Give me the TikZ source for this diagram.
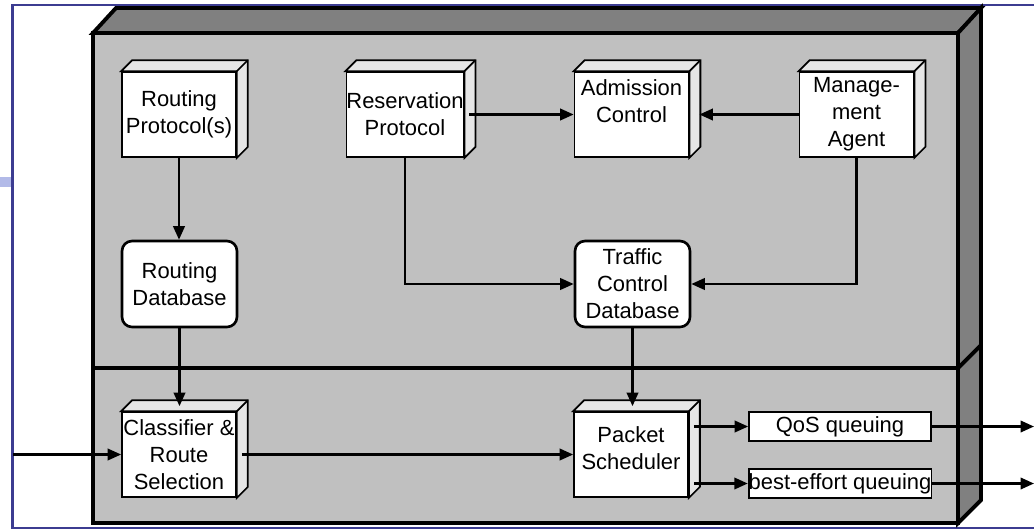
\documentclass[tikz,border=0pt]{standalone}
\usepackage{fontspec}
\setmainfont{Liberation Sans}
\usetikzlibrary{calc,arrows.meta}
\definecolor{frontgray}{RGB}{192,192,192}
\definecolor{sidegray}{RGB}{128,128,128}
\definecolor{lidgray}{RGB}{230,230,230}
\definecolor{framenavy}{RGB}{60,60,145}
\definecolor{barblue}{RGB}{178,186,232}
\tikzset{
  cube/.style={draw,line width=1pt,fill=white,minimum width=2.28cm,minimum height=1.7cm,align=center,inner sep=0pt},
  dbase/.style={draw,line width=1.5pt,fill=white,rounded corners=0.2cm,minimum width=2.3cm,minimum height=1.72cm,align=center,inner sep=0pt},
  queue/.style={draw,line width=1pt,fill=white,minimum width=3.64cm,minimum height=0.58cm,inner sep=0pt},
  flow/.style={line width=1.3pt,-{Triangle[length=0.27cm,width=0.23cm]}}
}
\newcommand\cubefaces[1]{%
  \draw[line width=1pt,fill=lidgray] (#1.north west) -- ++(11,-11) -- ([shift={(11,-11)}]#1.north east)
    -- ([shift={(11,-11)}]#1.south east) -- (#1.south east) -- (#1.north east) -- cycle;
  \draw[line width=1pt] (#1.north east) -- ++(11,-11);}

\begin{document}
\begin{tikzpicture}[x=0.02cm,y=-0.02cm,font=\fontsize{12.5pt}{15.4pt}\selectfont]
            \useasboundingbox (0,0) rectangle (1034,531);
            % slide frame
            \fill[barblue] (0,177) rectangle (11.5,187);
            \draw[framenavy,line width=1.2pt] (1034,5) -- (12.5,5) -- (12.5,528) -- (1034,528);
            % router box
            \draw[line width=2.2pt,fill=frontgray] (93,33) rectangle (958,523);
            \draw[line width=2.2pt,fill=sidegray] (93,33) -- (116,8) -- (981,8) -- (958,33) -- cycle;
            \draw[line width=2.2pt,fill=sidegray] (958,33) -- (981,8) -- (981,500) -- (958,523) -- cycle;
            \draw[line width=2.2pt] (93,368) -- (958,368) -- (981,345);
            % control plane
            \node[cube] (rp) at (179,114.5) {Routing\\Protocol(s)};
            \node[cube] (res) at (405,114.5) {Reservation\\Protocol};
            \node[cube] (ac) at (631.5,114.5) {Admission\\Control\\\mbox{}};
            \node[cube] (ma) at (856.5,114.5) {Manage-\\ment\\Agent};
            \node[dbase] (rdb) at (179.5,284) {Routing\\Database};
            \node[dbase] (tcdb) at (632.5,284) {Traffic\\Control\\Database};
            % data plane
            \node[cube] (cls) at (179,454.5) {Classifier \&\\Route\\Selection};
            \node[cube] (ps) at (631,454.5) {Packet\\Scheduler\\[-8pt]\mbox{}};
            \node[queue] (qos) at (840,426.5) {QoS queuing};
            \node[queue] (be) at (840,483.5) {best-effort queuing};
            \cubefaces{rp}
            \cubefaces{res}
            \cubefaces{ac}
            \cubefaces{ma}
            \cubefaces{cls}
            \cubefaces{ps}
            \coordinate (pktin) at (13,454.5);
            \coordinate (qosout) at (1034,426.5);
            \coordinate (beout) at (1034,483.5);
            % connectors
            \draw[flow] (rp.south) -- (rp.south |- rdb.north);
            \draw[flow,shorten >=0.1cm] (rdb.south) -- (rdb.south |- cls.north);
            \draw[flow,shorten <=0.1cm] (res.east) -- (ac.west);
            \draw[flow] (ma.west) -- ([xshift=0.2cm]ac.east);
            \draw[flow] (res.south) |- (tcdb.west);
            \draw[flow] (ma.south) |- (tcdb.east);
            \draw[flow,shorten >=0.1cm] (tcdb.south) -- (tcdb.south |- ps.north);
            \draw[flow] (pktin) -- (cls.west);
            \draw[flow,shorten <=0.1cm] (cls.east) -- (ps.west);
            \draw[flow,shorten <=0.1cm] (ps.east |- qos.west) -- (qos.west);
            \draw[flow,shorten <=0.1cm] (ps.east |- be.west) -- (be.west);
            \draw[flow] (qos.east) -- (qosout);
            \draw[flow] (be.east) -- (beout);
        \end{tikzpicture}
\end{document}
